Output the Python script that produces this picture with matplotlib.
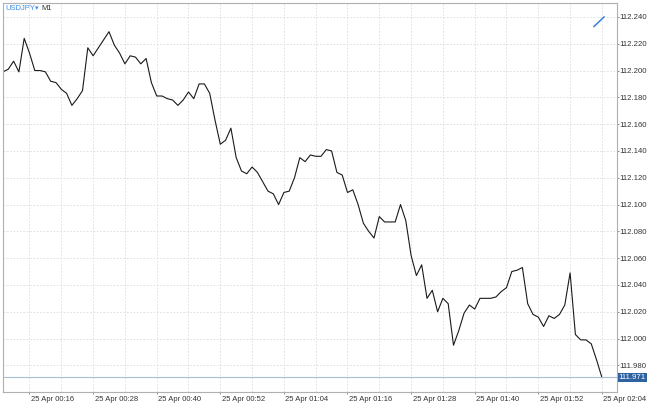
import matplotlib
matplotlib.use("Agg")
import numpy as np
import matplotlib.pyplot as plt
from matplotlib.transforms import ScaledTranslation
from matplotlib.lines import Line2D

# USDJPY M1 closes, one per minute from 25 Apr 00:11 to 02:04
symbol = "USDJPY"
timeframe = "M1"
start_minute = 11
close_prices = [
    112.199, 112.201, 112.207, 112.199, 112.224, 112.213, 112.200, 112.200,
    112.199, 112.192, 112.191, 112.186, 112.183, 112.174, 112.179, 112.185,
    112.217, 112.211, 112.217, 112.223, 112.229, 112.219, 112.213, 112.205,
    112.211, 112.210, 112.205, 112.209, 112.191, 112.181, 112.181, 112.179,
    112.178, 112.174, 112.178, 112.184, 112.179, 112.190, 112.190, 112.183,
    112.163, 112.145, 112.148, 112.157, 112.135, 112.125, 112.123, 112.128,
    112.124, 112.117, 112.110, 112.108, 112.100, 112.109, 112.110, 112.120,
    112.135, 112.132, 112.137, 112.136, 112.136, 112.141, 112.140, 112.124,
    112.122, 112.109, 112.111, 112.100, 112.086, 112.080, 112.075, 112.091,
    112.087, 112.087, 112.087, 112.100, 112.088, 112.062, 112.047, 112.055,
    112.030, 112.036, 112.020, 112.030, 112.026, 111.995, 112.006, 112.019,
    112.025, 112.022, 112.030, 112.030, 112.030, 112.031, 112.035, 112.038,
    112.050, 112.051, 112.053, 112.026, 112.018, 112.016, 112.009, 112.017,
    112.015, 112.018, 112.025, 112.049, 112.003, 111.999, 111.999, 111.996,
    111.984, 111.971,
]
minutes = list(range(start_minute, start_minute + len(close_prices)))

x_tick_minutes = [16, 28, 40, 52, 64, 76, 88, 100, 112, 124]
x_tick_labels = ["25 Apr 00:16", "25 Apr 00:28", "25 Apr 00:40", "25 Apr 00:52",
                 "25 Apr 01:04", "25 Apr 01:16", "25 Apr 01:28", "25 Apr 01:40",
                 "25 Apr 01:52", "25 Apr 02:04"]
y_ticks = np.round(np.arange(111.98, 112.2401, 0.02), 3)
last_price = close_prices[-1]

plt.rcParams["font.family"] = ["Liberation Sans", "DejaVu Sans"]

fig = plt.figure(figsize=(6.5, 4.03), dpi=100)
ax = fig.add_axes([3 / 650, 11 / 403, 614 / 650, 389 / 403])

ax.plot(minutes, close_prices, color="#1a1a1a", linewidth=0.8)
ax.axhline(last_price, color="#a9bdd2", linewidth=0.8)

# axes: prices on the right, times along the bottom
ax.yaxis.tick_right()
ax.set_yticks(y_ticks)
ax.set_yticklabels([f"{v:.3f}" for v in y_ticks])
ax.set_xticks(x_tick_minutes)
ax.set_xticklabels(x_tick_labels)
ax.set_xticks([m + 6 for m in x_tick_minutes[:-1]], minor=True)
ax.tick_params(axis="y", which="major", length=1.6, width=0.6, color="#777777",
               labelsize=5.6, labelcolor="#333333", pad=0.4)
ax.tick_params(axis="x", which="major", length=1.6, width=0.6, color="#777777",
               labelsize=5.5, labelcolor="#333333", pad=1)
ax.tick_params(axis="x", which="minor", length=0)
for lbl in ax.get_xticklabels():
    lbl.set_horizontalalignment("left")
    lbl.set_transform(lbl.get_transform() + ScaledTranslation(1.5 / 100, 0, fig.dpi_scale_trans))

# limits last, so the tick setters cannot widen them
ax.set_xlim(11, 126.85)
ax.set_ylim(111.9601, 112.2504)

ax.grid(True, which="both", color="#dcdcdc", linestyle=(0, (2, 2)), linewidth=0.6)
ax.set_axisbelow(True)
for spine in ax.spines.values():
    spine.set_color("#b0b0b0")
    spine.set_linewidth(0.8)

# current price tag on the price scale
ax.text(1.003, last_price, f"{last_price:.3f}", transform=ax.get_yaxis_transform(),
        ha="left", va="center", fontsize=5.6, color="white",
        bbox=dict(boxstyle="square,pad=0.15", facecolor="#2f62a0", edgecolor="none"))

# symbol / timeframe caption
cap_y = 1 - 9 / 403
fig.text(5 / 650, cap_y, symbol, ha="left", va="center", fontsize=5.5, color="#3a8ee6")
fig.text(35 / 650, cap_y, "\u25be", ha="left", va="center", fontsize=5, color="#3a8ee6")
fig.text(41 / 650, cap_y, timeframe, ha="left", va="center", fontsize=5.5, color="#333333")

# small trend icon in the top right corner
fig.add_artist(Line2D([594 / 650, 604 / 650], [1 - 26.5 / 403, 1 - 17 / 403],
                      color="#3a7fd8", linewidth=1.1))

fig.savefig("out.png", dpi=100)
